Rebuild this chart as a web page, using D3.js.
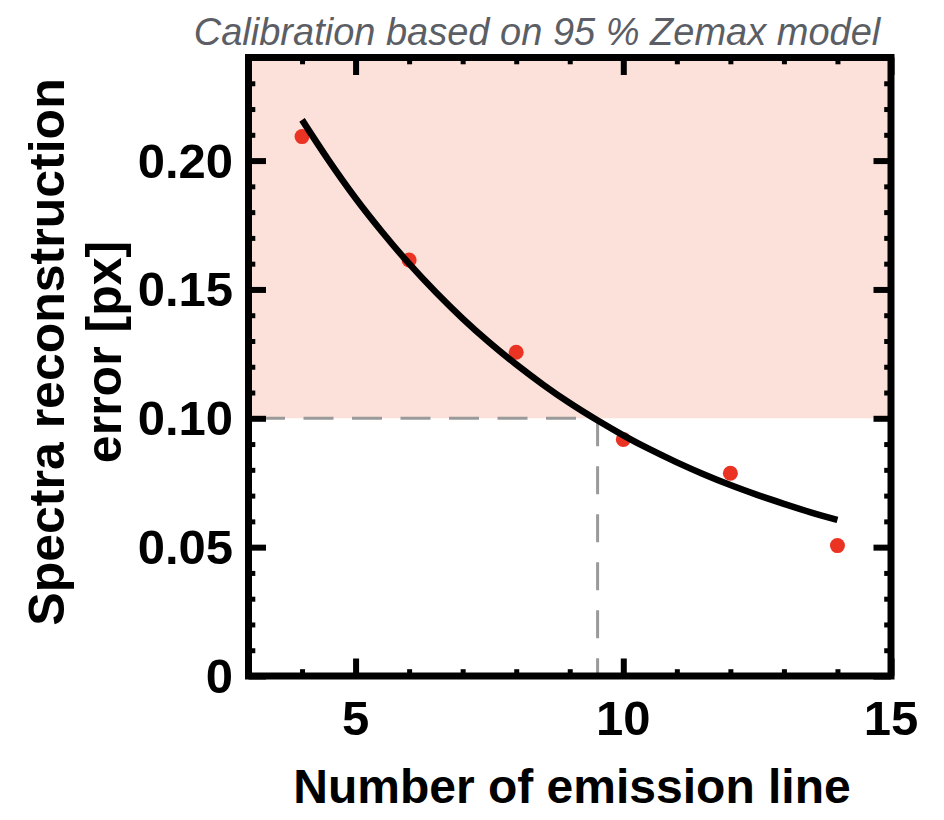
<!DOCTYPE html>
<html><head><meta charset="utf-8">
<script src="https://cdn.jsdelivr.net/npm/d3@7"></script>
<style>body{margin:0;background:#fff}</style>
</head><body>
<svg id="chart" width="944" height="820"></svg>
<script>
// ---- data ----
const pointX = [4, 6, 8, 10, 12, 14];
const pointY = [0.2093, 0.1614, 0.1256, 0.0918, 0.0787, 0.0506];
const fitX = [4, 4.5, 5, 5.5, 6, 6.5, 7, 7.5, 8, 8.5, 9, 9.5, 10, 10.5, 11, 11.5, 12, 12.5, 13, 13.5, 14];
const fitY = [0.2158, 0.2000, 0.1854, 0.1722, 0.1600, 0.1489, 0.1387, 0.1294, 0.1209, 0.1131, 0.1059, 0.0994, 0.0934, 0.0879, 0.0829, 0.0783, 0.0741, 0.0703, 0.0668, 0.0635, 0.0606];
const xTicks = [5, 10, 15];
const xTickLabels = ["5", "10", "15"];
const xMinorTicks = [4, 6, 7, 8, 9, 11, 12, 13, 14];
const yTicks = [0, 0.05, 0.10, 0.15, 0.20];
const yTickLabels = ["0", "0.05", "0.10", "0.15", "0.20"];
const yMinorTicks = [0.01, 0.02, 0.03, 0.04, 0.06, 0.07, 0.08, 0.09, 0.11, 0.12, 0.13, 0.14, 0.16, 0.17, 0.18, 0.19, 0.21, 0.22, 0.23];
const thresholdY = 0.10;
const thresholdX = 9.52;
const titleText = "Calibration based on 95 % Zemax model";
const xLabel = "Number of emission line";
const yLabelLines = ["Spectra reconstruction", "error [px]"];

// ---- scales ----
const svg = d3.select("#chart");
const x = d3.scaleLinear().domain([3, 15]).range([248.5, 891]);
const y = d3.scaleLinear().domain([0, 0.24]).range([676, 57.5]);
const FONT = "'Liberation Sans', Arial, Helvetica, sans-serif";

// shaded region above threshold
svg.append("rect")
  .attr("x", x(3)).attr("y", y(0.24))
  .attr("width", x(15) - x(3)).attr("height", y(thresholdY) - y(0.24))
  .attr("fill", "#fbe1da");

// dashed threshold lines
svg.append("line")
  .attr("x1", x(3)).attr("x2", x(thresholdX))
  .attr("y1", y(thresholdY)).attr("y2", y(thresholdY))
  .attr("stroke", "#9a9a9a").attr("stroke-width", 3)
  .attr("stroke-dasharray", "30,18.5").attr("stroke-dashoffset", 42);
svg.append("line")
  .attr("x1", x(thresholdX)).attr("x2", x(thresholdX))
  .attr("y1", y(thresholdY)).attr("y2", y(0))
  .attr("stroke", "#9a9a9a").attr("stroke-width", 3)
  .attr("stroke-dasharray", "28,20");

// points
svg.append("g").selectAll("circle")
  .data(pointX.map((d, i) => [d, pointY[i]]))
  .join("circle")
  .attr("cx", d => x(d[0])).attr("cy", d => y(d[1]))
  .attr("r", 7.5).attr("fill", "#eb3323");

// fitted curve
const line = d3.line().x(d => x(d[0])).y(d => y(d[1])).curve(d3.curveMonotoneX);
svg.append("path")
  .datum(fitX.map((d, i) => [d, fitY[i]]))
  .attr("d", line)
  .attr("fill", "none").attr("stroke", "#000").attr("stroke-width", 6.5);

// frame
svg.append("rect")
  .attr("x", x(3)).attr("y", y(0.24))
  .attr("width", x(15) - x(3)).attr("height", y(0) - y(0.24))
  .attr("fill", "none").attr("stroke", "#000").attr("stroke-width", 7);

// ticks via axes (inward)
function styleTicks(g, w) {
  g.select(".domain").remove();
  g.selectAll(".tick line").attr("stroke", "#000").attr("stroke-width", w);
  g.selectAll(".tick text").remove();
}
const MAJ = 17.5, MIN = 6.8;
svg.append("g").attr("transform", `translate(0,${y(0)})`)
  .call(d3.axisBottom(x).tickValues(xTicks).tickSize(-MAJ)).call(g => styleTicks(g, 6));
svg.append("g").attr("transform", `translate(0,${y(0)})`)
  .call(d3.axisBottom(x).tickValues(xMinorTicks).tickSize(-MIN)).call(g => styleTicks(g, 5));
svg.append("g").attr("transform", `translate(0,${y(0.24)})`)
  .call(d3.axisTop(x).tickValues(xTicks).tickSize(-MAJ)).call(g => styleTicks(g, 6));
svg.append("g").attr("transform", `translate(0,${y(0.24)})`)
  .call(d3.axisTop(x).tickValues(xMinorTicks).tickSize(-MIN)).call(g => styleTicks(g, 5));
svg.append("g").attr("transform", `translate(${x(3)},0)`)
  .call(d3.axisLeft(y).tickValues(yTicks).tickSize(-MAJ)).call(g => styleTicks(g, 6));
svg.append("g").attr("transform", `translate(${x(3)},0)`)
  .call(d3.axisLeft(y).tickValues(yMinorTicks).tickSize(-MIN)).call(g => styleTicks(g, 5));
svg.append("g").attr("transform", `translate(${x(15)},0)`)
  .call(d3.axisRight(y).tickValues(yTicks).tickSize(-MAJ)).call(g => styleTicks(g, 6));
svg.append("g").attr("transform", `translate(${x(15)},0)`)
  .call(d3.axisRight(y).tickValues(yMinorTicks).tickSize(-MIN)).call(g => styleTicks(g, 5));

// tick labels
svg.append("g").selectAll("text")
  .data(xTicks).join("text")
  .attr("x", d => x(d)).attr("y", 735)
  .attr("text-anchor", "middle")
  .attr("font-family", FONT).attr("font-weight", "bold").attr("font-size", 49)
  .text((d, i) => xTickLabels[i]);
svg.append("g").selectAll("text")
  .data(yTicks).join("text")
  .attr("x", 233).attr("y", d => y(d) + 17)
  .attr("text-anchor", "end")
  .attr("font-family", FONT).attr("font-weight", "bold").attr("font-size", 49)
  .text((d, i) => yTickLabels[i]);

// axis titles
svg.append("text")
  .attr("x", 572).attr("y", 803)
  .attr("text-anchor", "middle")
  .attr("font-family", FONT).attr("font-weight", "bold").attr("font-size", 48)
  .text(xLabel);
const yl = svg.append("text")
  .attr("transform", "translate(0,352) rotate(-90)")
  .attr("text-anchor", "middle")
  .attr("font-family", FONT).attr("font-weight", "bold").attr("font-size", 50);
yl.append("tspan").attr("x", 0).attr("y", 64).text(yLabelLines[0]);
yl.append("tspan").attr("x", 0).attr("y", 121).text(yLabelLines[1]);

// title
svg.append("text")
  .attr("x", 537).attr("y", 45)
  .attr("text-anchor", "middle")
  .attr("font-family", FONT).attr("font-style", "italic").attr("font-size", 38)
  .attr("fill", "#5b5e65")
  .text(titleText);
</script>
</body></html>
